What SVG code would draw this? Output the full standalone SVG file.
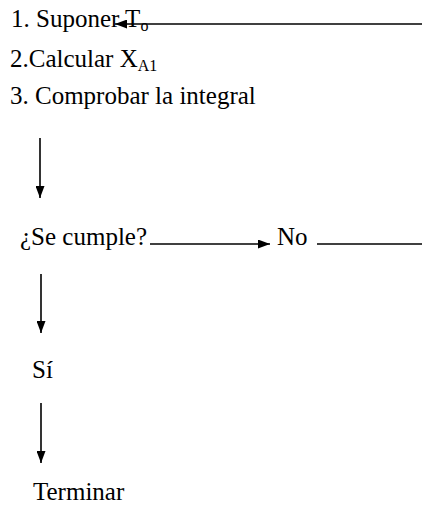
<svg xmlns="http://www.w3.org/2000/svg" width="422" height="512" viewBox="0 0 422 512">
<style>
.t{font-family:'Liberation Serif','Times New Roman','DejaVu Serif',serif;font-size:25px;fill:#000}
.sub{font-size:16px}
.c{stroke:#000;stroke-width:1.6;fill:none}
</style>
<defs>
<marker id="ah" viewBox="0 0 12 9" refX="12" refY="4.5" markerWidth="12" markerHeight="9" markerUnits="userSpaceOnUse" orient="auto">
<path d="M0,0 L12,4.5 L0,9 Z" fill="#000"/>
</marker>
</defs>
<rect width="422" height="512" fill="#fff"/>
<g id="n1"><text class="t" x="11" y="27">1. Suponer T<tspan class="sub" dy="4">o</tspan></text></g>
<g id="n2"><text class="t" x="10" y="67">2.Calcular X<tspan class="sub" dy="4">A1</tspan></text></g>
<g id="n3"><text class="t" x="10" y="104">3. Comprobar la integral</text></g>
<g id="n4"><text class="t" x="20" y="245">¿Se cumple?</text></g>
<g id="n5"><text class="t" x="277" y="245">No</text></g>
<g id="n6"><text class="t" x="32" y="378">Sí</text></g>
<g id="n7"><text class="t" x="33" y="500">Terminar</text></g>
<g id="connectors">
<path class="c" d="M422,24 L115,24" marker-end="url(#ah)"/>
<path class="c" d="M40,138 L40,198" marker-end="url(#ah)"/>
<path class="c" d="M150,244 L270,244" marker-end="url(#ah)"/>
<path class="c" d="M317,244 L422,244"/>
<path class="c" d="M41,274 L41,333" marker-end="url(#ah)"/>
<path class="c" d="M41,403 L41,463" marker-end="url(#ah)"/>
</g>
</svg>
